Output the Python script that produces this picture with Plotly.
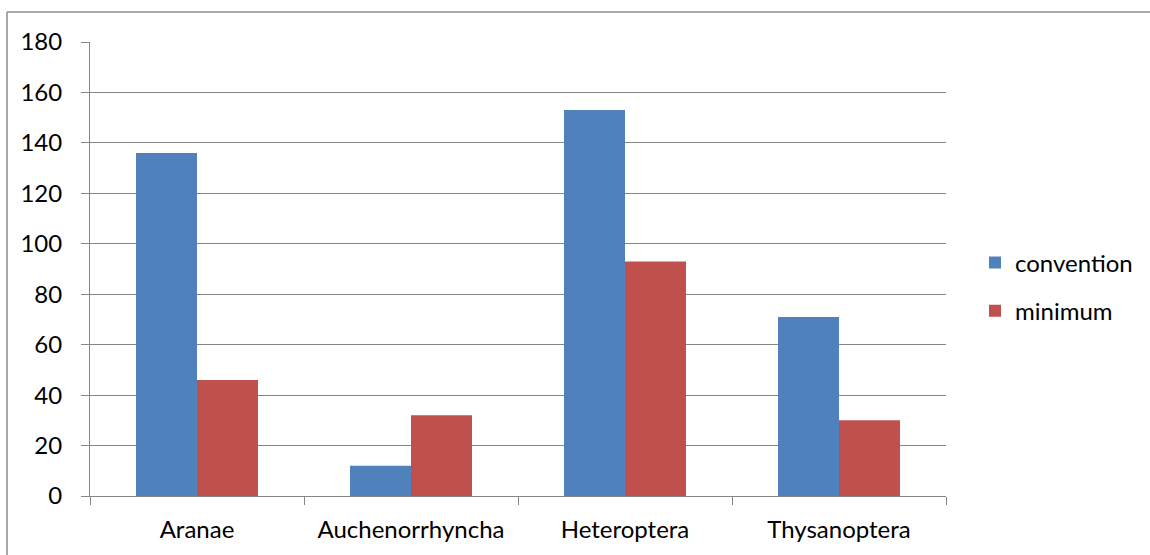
import plotly.graph_objects as go

categories = ["Aranae", "Auchenorrhyncha", "Heteroptera", "Thysanoptera"]
convention = [136, 12, 153, 71]
minimum = [46, 32, 93, 30]
y_ticks = [0, 20, 40, 60, 80, 100, 120, 140, 160, 180]

W, H = 1150, 555
L, R, T, B = 90, 204, 42, 59
pw, ph = W - L - R, H - T - B

font = dict(family="Lato, Carlito, sans-serif", size=24, color="#000000")
grid = "#868686"

fig = go.Figure()
fig.add_trace(go.Bar(name="convention", x=categories, y=convention,
                     marker=dict(color="#4F81BD", line=dict(width=0)),
                     legendgroup="a"))
fig.add_trace(go.Bar(name="minimum", x=categories, y=minimum,
                     marker=dict(color="#C0504D", line=dict(width=0)),
                     legendgroup="b"))

# outer chart frame (top and left edges visible)
fx0 = (7 - L) / pw
fy1 = 1 + (T - 12) / ph
fig.add_shape(type="line", xref="paper", yref="paper",
              x0=fx0, x1=(W + 5 - L) / pw, y0=fy1, y1=fy1,
              line=dict(color="#8c8c8c", width=1.5))
fig.add_shape(type="line", xref="paper", yref="paper",
              x0=fx0, x1=fx0, y0=fy1, y1=-(B + 5) / ph,
              line=dict(color="#8c8c8c", width=1.5))

fig.update_layout(
    width=W, height=H,
    margin=dict(l=L, r=R, t=T, b=B, pad=0),
    paper_bgcolor="white", plot_bgcolor="white",
    font=font,
    barmode="group", bargap=0.43, bargroupgap=0,
    showlegend=True,
    legend=dict(x=(975 - L) / pw, y=1 - (287 - T) / ph, xanchor="left",
                yanchor="middle", font=font, traceorder="grouped",
                tracegroupgap=14, bgcolor="rgba(0,0,0,0)"),
    xaxis=dict(showline=True, linecolor=grid, linewidth=1,
               ticks="outside", tickson="boundaries", ticklen=8,
               tickcolor=grid, tickwidth=1, showgrid=False,
               tickfont=font, ticklabelstandoff=12, automargin=False),
    yaxis=dict(range=[0, 180], tickvals=y_ticks, showline=True,
               linecolor=grid, linewidth=1, ticks="outside", ticklen=8,
               tickcolor=grid, tickwidth=1, showgrid=True,
               gridcolor=grid, gridwidth=1, zeroline=False,
               tickfont=font, ticklabelstandoff=14, automargin=False),
)

fig.write_html("out.html")
